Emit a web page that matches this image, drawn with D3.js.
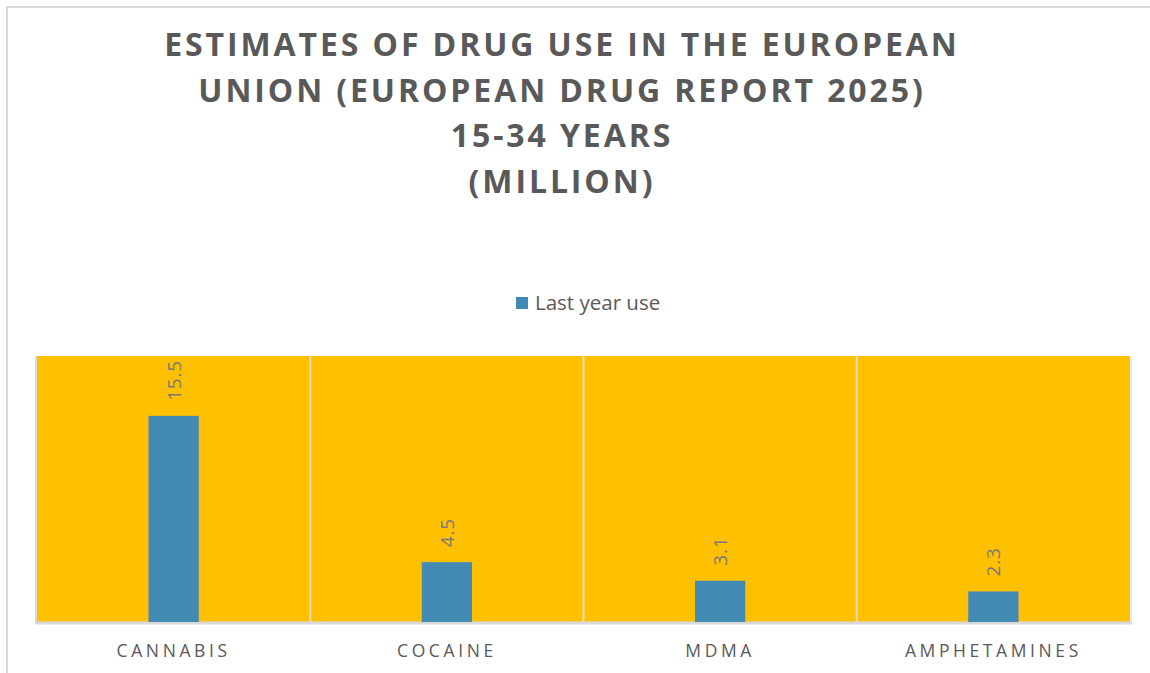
<!DOCTYPE html>
<html>
<head>
<meta charset="utf-8">
<script src="https://cdn.jsdelivr.net/npm/d3@7"></script>
<style>
  html, body { margin: 0; padding: 0; background: #fff; }
  svg { display: block; }
</style>
</head>
<body>
<svg id="chart"></svg>
<script>
// Data
const titleLines = [
  "ESTIMATES OF DRUG USE IN THE EUROPEAN",
  "UNION (EUROPEAN DRUG REPORT 2025)",
  "15-34 YEARS",
  "(MILLION)"
];
const categories = ["CANNABIS", "COCAINE", "MDMA", "AMPHETAMINES"];
const lastYearUse = [15.5, 4.5, 3.1, 2.3];
const seriesName = "Last year use";
const yDomain = [0, 20];

// Config
const width = 1150;
const height = 673;
const plot = { left: 37, top: 356, right: 1130, bottom: 622 };
const textColor = "#595959";
const font = "'Open Sans', 'Noto Sans', sans-serif";

const svg = d3.select("#chart")
  .attr("width", width)
  .attr("height", height);

// Outer chart frame (cropped at right/bottom)
svg.append("path")
  .attr("d", `M7,${height + 5} L7,7 L${width + 5},7`)
  .attr("fill", "none")
  .attr("stroke", "#d9d9d9")
  .attr("stroke-width", 2);

// Title
svg.append("g")
  .selectAll("text")
  .data(titleLines)
  .join("text")
    .attr("x", 562)
    .attr("y", (d, i) => 56 + i * 45.7)
    .attr("text-anchor", "middle")
    .attr("font-family", font)
    .attr("font-weight", 700)
    .attr("font-size", 32)
    .attr("letter-spacing", 2.9)
    .attr("fill", textColor)
    .text(d => d);

// Legend
const legend = svg.append("g").attr("transform", "translate(516,297)");
legend.append("rect")
  .attr("width", 12)
  .attr("height", 12)
  .attr("fill", "#418AB3");
legend.append("text")
  .attr("x", 19)
  .attr("y", 13)
  .attr("font-family", font)
  .attr("font-size", 20.5)
  .attr("fill", textColor)
  .text(seriesName);

// Scales
const x = d3.scaleBand()
  .domain(categories)
  .range([plot.left, plot.right]);

const y = d3.scaleLinear()
  .domain(yDomain)
  .range([plot.bottom, plot.top]);

const barW = x.bandwidth() * 0.184;

// Plot background
svg.append("rect")
  .attr("x", plot.left)
  .attr("y", plot.top)
  .attr("width", plot.right - plot.left)
  .attr("height", plot.bottom - plot.top)
  .attr("fill", "#FFC000");

// Category separators
svg.append("g")
  .selectAll("line")
  .data(categories.slice(1))
  .join("line")
    .attr("x1", d => x(d))
    .attr("x2", d => x(d))
    .attr("y1", plot.top)
    .attr("y2", plot.bottom)
    .attr("stroke", "#e3dccb")
    .attr("stroke-width", 2);

// Left edge + bottom axis line
svg.append("line")
  .attr("x1", plot.left - 1).attr("x2", plot.left - 1)
  .attr("y1", plot.top).attr("y2", plot.bottom)
  .attr("stroke", "#d9d9d9").attr("stroke-width", 2);
svg.append("line")
  .attr("x1", plot.right + 1).attr("x2", plot.right + 1)
  .attr("y1", plot.top).attr("y2", plot.bottom)
  .attr("stroke", "#ececec").attr("stroke-width", 2);
svg.append("line")
  .attr("x1", plot.left - 2).attr("x2", plot.right + 2)
  .attr("y1", plot.bottom + 1).attr("y2", plot.bottom + 1)
  .attr("stroke", "#d9d9d9").attr("stroke-width", 3);

// Bars
const data = categories.map((c, i) => ({ cat: c, value: lastYearUse[i] }));

svg.append("g")
  .selectAll("rect")
  .data(data)
  .join("rect")
    .attr("x", d => x(d.cat) + x.bandwidth() / 2 - barW / 2)
    .attr("y", d => y(d.value))
    .attr("width", barW)
    .attr("height", d => y(0) - y(d.value))
    .attr("fill", "#418AB3");

// Data labels (rotated)
svg.append("g")
  .selectAll("text")
  .data(data)
  .join("text")
    .attr("transform", d => `translate(${x(d.cat) + x.bandwidth() / 2 + 2},${y(d.value) - 15}) rotate(-90)`)
    .attr("text-anchor", "start")
    .attr("dominant-baseline", "middle")
    .attr("font-family", font)
    .attr("font-size", 19)
    .attr("letter-spacing", 0.8)
    .attr("fill", "#7a7a7a")
    .text(d => d.value.toFixed(1));

// X axis labels
svg.append("g")
  .selectAll("text")
  .data(categories)
  .join("text")
    .attr("x", d => x(d) + x.bandwidth() / 2)
    .attr("y", 657)
    .attr("text-anchor", "middle")
    .attr("font-family", font)
    .attr("font-size", 17.5)
    .attr("letter-spacing", 3.6)
    .attr("fill", textColor)
    .text(d => d);
</script>
</body>
</html>
